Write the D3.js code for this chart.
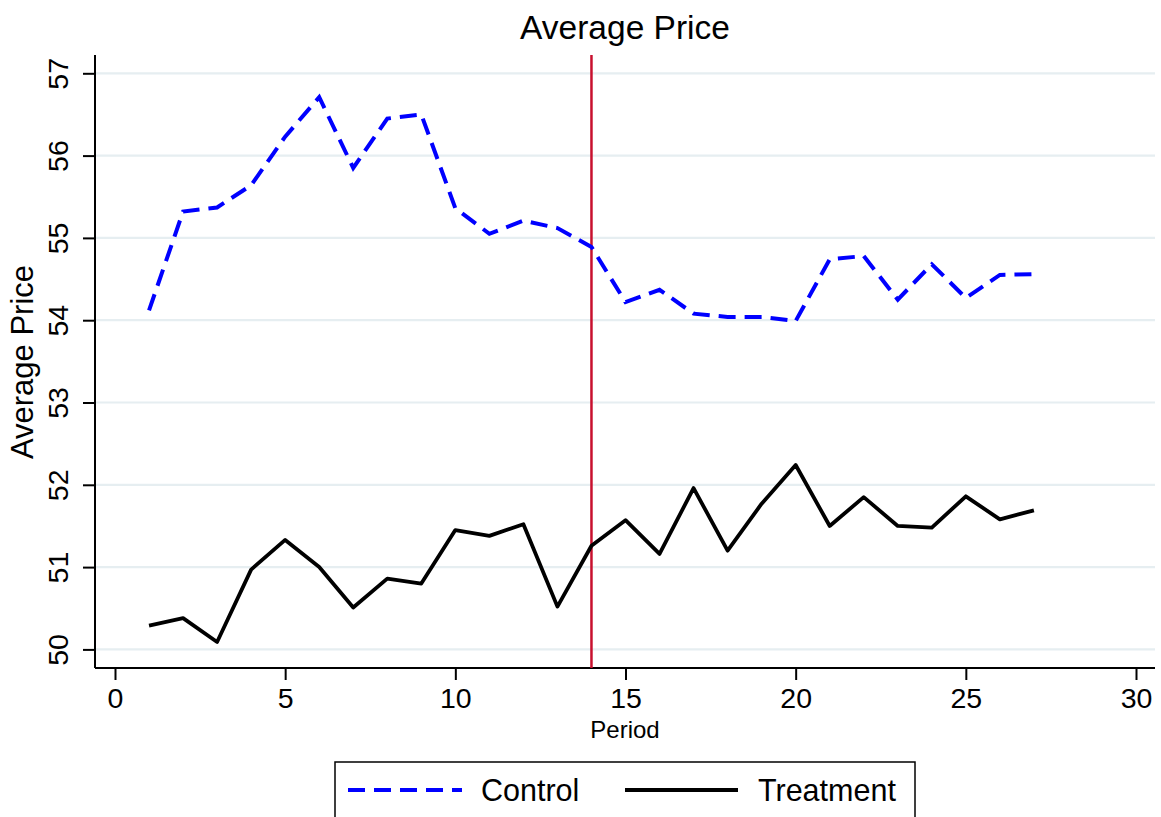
<!DOCTYPE html>
<html><head><meta charset="utf-8">
<script src="https://cdn.jsdelivr.net/npm/d3@7"></script>
<style>body{margin:0;background:#fff}svg{display:block;font-family:"Liberation Sans",Arial,sans-serif}</style>
</head><body><svg id="c" width="1161" height="817"></svg>
<script>
const periods = d3.range(1, 28);
const control = [54.12,55.32,55.37,55.64,56.23,56.71,55.85,56.45,56.50,55.36,55.05,55.21,55.12,54.89,54.22,54.37,54.08,54.04,54.04,53.99,54.74,54.78,54.25,54.68,54.27,54.55,54.56];
const treatment = [50.29,50.38,50.09,50.97,51.33,51.00,50.51,50.86,50.80,51.45,51.38,51.52,50.52,51.26,51.57,51.16,51.96,51.20,51.77,52.24,51.50,51.85,51.50,51.48,51.86,51.58,51.69];
const xTicks = [0,5,10,15,20,25,30];
const yTicks = [50,51,52,53,54,55,56,57];
const treatPeriod = 14;
const seriesNames = ["Control","Treatment"];

const svg = d3.select("#c");
const x = d3.scaleLinear().domain([0,30]).range([115,1136]);
const y = d3.scaleLinear().domain([50,57]).range([649.4,73.3]);
const plotL = 95, plotR = 1155, plotT = 55, plotB = 668;

// gridlines
svg.append("g").selectAll("line").data(yTicks).join("line")
  .attr("x1", plotL).attr("x2", plotR).attr("y1", d=>y(d)).attr("y2", d=>y(d))
  .attr("stroke", "#e6eef1").attr("stroke-width", 2.2);

// axes
const yAxis = svg.append("g").attr("transform", `translate(${plotL},0)`)
  .call(d3.axisLeft(y).tickValues(yTicks).tickSize(12).tickPadding(0).tickFormat(d3.format("d")));
yAxis.select(".domain").attr("d", `M0,${plotT}V${plotB}`).attr("stroke","#000").attr("stroke-width",2);
yAxis.selectAll(".tick line").attr("stroke","#000").attr("stroke-width",2);
yAxis.selectAll(".tick text").attr("transform","rotate(-90)").attr("x",0).attr("y",-27)
  .attr("dy",0).attr("text-anchor","middle").attr("font-size",28.5).attr("fill","#000");

const xAxis = svg.append("g").attr("transform", `translate(0,${plotB})`)
  .call(d3.axisBottom(x).tickValues(xTicks).tickSize(12).tickPadding(0).tickFormat(d3.format("d")));
xAxis.select(".domain").attr("d", `M${plotL},0H${plotR}`).attr("stroke","#000").attr("stroke-width",2);
xAxis.selectAll(".tick line").attr("stroke","#000").attr("stroke-width",2);
xAxis.selectAll(".tick text").attr("y",40).attr("dy",0).attr("font-size",28.5).attr("fill","#000");

// treatment vertical line
svg.append("line").attr("x1", x(treatPeriod)).attr("x2", x(treatPeriod))
  .attr("y1", plotT).attr("y2", plotB).attr("stroke","#c8102e").attr("stroke-width",2.5);

const line = d3.line().x((d,i)=>x(periods[i])).y(d=>y(d));
svg.append("path").datum(control).attr("d", line).attr("fill","none")
  .attr("stroke","#0000ff").attr("stroke-width",4).attr("stroke-dasharray","17 9");
svg.append("path").datum(treatment).attr("d", line).attr("fill","none")
  .attr("stroke","#000").attr("stroke-width",3.8).attr("stroke-linejoin","round");

// titles
svg.append("text").attr("x",625).attr("y",39).attr("text-anchor","middle").attr("font-size",33.5).text("Average Price");
svg.append("text").attr("x",625).attr("y",738).attr("text-anchor","middle").attr("font-size",24).text("Period");
svg.append("text").attr("transform","translate(33,362) rotate(-90)").attr("text-anchor","middle").attr("font-size",31).text("Average Price");

// legend
svg.append("rect").attr("x",335).attr("y",762).attr("width",580).attr("height",70)
  .attr("fill","#fff").attr("stroke","#000").attr("stroke-width",1.5);
svg.append("line").attr("x1",348).attr("x2",462).attr("y1",790).attr("y2",790)
  .attr("stroke","#0000ff").attr("stroke-width",4).attr("stroke-dasharray","17 9");
svg.append("text").attr("x",481).attr("y",801).attr("font-size",30.5).text(seriesNames[0]);
svg.append("line").attr("x1",625).attr("x2",738).attr("y1",790).attr("y2",790)
  .attr("stroke","#000").attr("stroke-width",3.8);
svg.append("text").attr("x",758).attr("y",801).attr("font-size",30.5).text(seriesNames[1]);
</script></body></html>
